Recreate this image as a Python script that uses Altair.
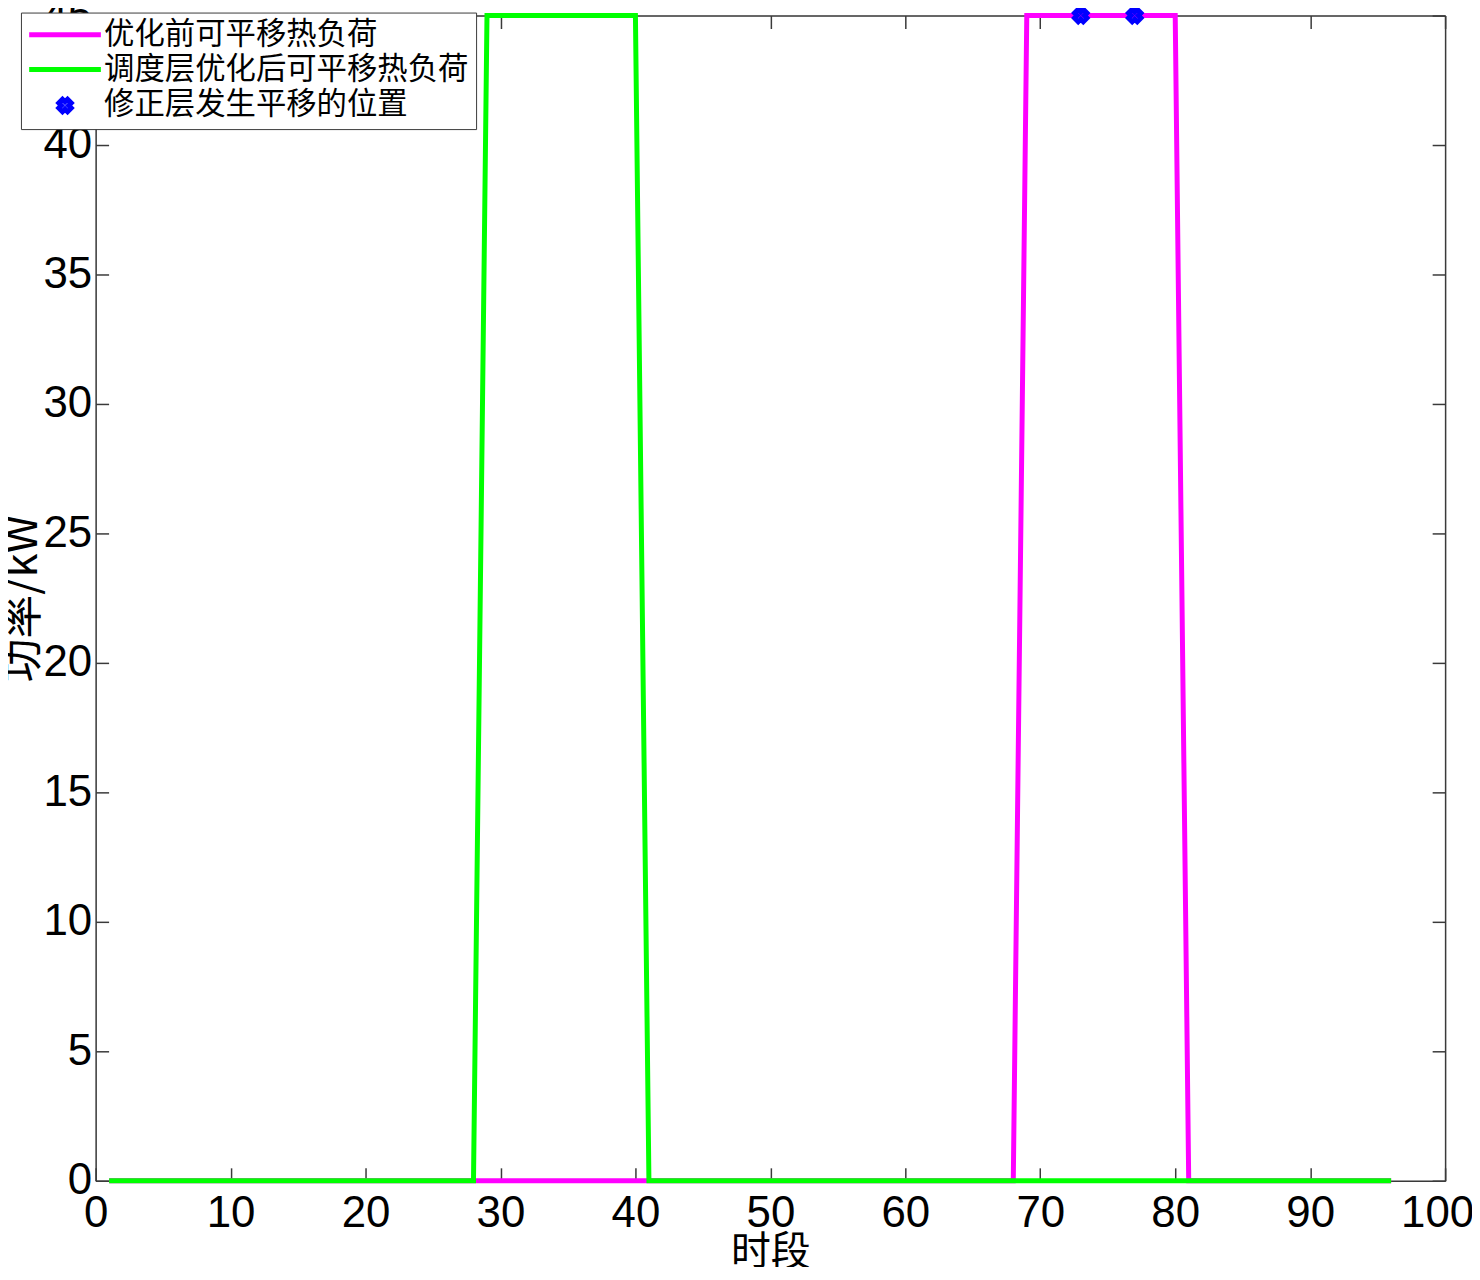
import math
import altair as alt
import pandas as pd

# ---------------- data ----------------
periods = list(range(1, 97))

before_load = [
    0, 0, 0, 0, 0, 0, 0, 0, 0, 0, 0, 0,
    0, 0, 0, 0, 0, 0, 0, 0, 0, 0, 0, 0,
    0, 0, 0, 0, 0, 0, 0, 0, 0, 0, 0, 0,
    0, 0, 0, 0, 0, 0, 0, 0, 0, 0, 0, 0,
    0, 0, 0, 0, 0, 0, 0, 0, 0, 0, 0, 0,
    0, 0, 0, 0, 0, 0, 0, 0, 45, 45, 45, 45,
    45, 45, 45, 45, 45, 45, 45, 45, 0, 0, 0, 0,
    0, 0, 0, 0, 0, 0, 0, 0, 0, 0, 0, 0,
]
after_load = [
    0, 0, 0, 0, 0, 0, 0, 0, 0, 0, 0, 0,
    0, 0, 0, 0, 0, 0, 0, 0, 0, 0, 0, 0,
    0, 0, 0, 0, 45, 45, 45, 45, 45, 45, 45, 45,
    45, 45, 45, 45, 0, 0, 0, 0, 0, 0, 0, 0,
    0, 0, 0, 0, 0, 0, 0, 0, 0, 0, 0, 0,
    0, 0, 0, 0, 0, 0, 0, 0, 0, 0, 0, 0,
    0, 0, 0, 0, 0, 0, 0, 0, 0, 0, 0, 0,
    0, 0, 0, 0, 0, 0, 0, 0, 0, 0, 0, 0,
]
shift_periods = [73, 77]
shift_values = [45, 45]

SER_A = "优化前可平移热负荷"
SER_B = "调度层优化后可平移热负荷"
SER_C = "修正层发生平移的位置"
series_names = [SER_A, SER_B, SER_C]
series_colors = ["#ff00ff", "#00ff00", "#0000ff"]

x_ticks = [0, 10, 20, 30, 40, 50, 60, 70, 80, 90, 100]
y_ticks = [0, 5, 10, 15, 20, 25, 30, 35, 40, 45]

# ---------------- tables ----------------
lines_df = pd.DataFrame({
    "t": periods * 2,
    "v": before_load + after_load,
    "s": [SER_A] * len(periods) + [SER_B] * len(periods),
})
pts_df = pd.DataFrame({"t": shift_periods, "v": shift_values,
                       "s": [SER_C] * len(shift_periods)})


# "x"-shaped marker path (thick diagonal cross)
def x_path(scale):
    a, th = 1.0, 0.42
    plus = [(-th, -a), (th, -a), (th, -th), (a, -th), (a, th), (th, th),
            (th, a), (-th, a), (-th, th), (-a, th), (-a, -th), (-th, -th)]
    rot = [((x - y) / math.sqrt(2), (x + y) / math.sqrt(2)) for x, y in plus]
    m = max(abs(c) for p in rot for c in p)
    pts = [(x / m * scale, y / m * scale) for x, y in rot]
    return "M" + "L".join(f"{x:.3f},{y:.3f}" for x, y in pts) + "Z"


X_SHAPE = x_path(0.5)
LINE_SHAPE = "M-2.88,0H2.88"

W, H = 1355, 1170
FRAME = "#3a3a3a"
NUM_FONT = "Liberation Sans"
CJK_FONT = "Noto Sans CJK SC"

xscale = alt.Scale(domain=[0, 100], nice=False, zero=False)
yscale = alt.Scale(domain=[0, 45], nice=False, zero=False)
cscale = alt.Scale(domain=series_names, range=series_colors)
sscale = alt.Scale(domain=series_names, range=[LINE_SHAPE, LINE_SHAPE, X_SHAPE])

legend = alt.Legend(
    title=None, orient="none", legendX=-75, legendY=-3,
    padding=7, rowPadding=4, fillColor="white", strokeColor=FRAME,
    cornerRadius=0,
    labelFont=CJK_FONT, labelFontSize=30.5, labelColor="black",
    labelLimit=1000,
    symbolSize=625, symbolStrokeWidth=5,
    symbolOffset=22, labelOffset=24,
)

tick_common = dict(
    grid=False, labels=False, title=None,
    ticks=True, tickSize=13, tickColor=FRAME, tickWidth=1.5,
    domainColor=FRAME, domainWidth=1.5,
)
label_common = dict(
    grid=False, ticks=False, tickSize=0,
    domain=True, domainColor=FRAME, domainWidth=1.5,
    labelFont=NUM_FONT, labelFontSize=44, labelColor="black",
    titleFont=CJK_FONT, titleColor="black",
    titleFontWeight="normal", labelFlush=False, labelOverlap=False,
)

x_labels = alt.Axis(
    values=x_ticks, orient="bottom", title="时段",
    labelPadding=11, titlePadding=-3, titleFontSize=40,
    labelOffset={"condition": {"test": "datum.value == 100", "value": -8},
                 "value": 0},
    **label_common)
y_labels = alt.Axis(values=y_ticks, orient="left", title="功率/kW",
                    labelPadding=4, titlePadding=-3, titleFontSize=44,
                    **label_common)
# inward ticks: axes pushed to the opposite edge with negative offset
x_ticks_bottom = alt.Axis(values=x_ticks, orient="top", offset=-H,
                          domain=False, **tick_common)
y_ticks_left = alt.Axis(values=y_ticks, orient="right", offset=-W,
                        domain=False, **tick_common)
x_ticks_top = alt.Axis(values=x_ticks, orient="bottom", offset=-H,
                       domain=True, **tick_common)
y_ticks_right = alt.Axis(values=y_ticks, orient="left", offset=-W,
                         domain=True, **tick_common)

base = alt.Chart(lines_df)

line_a = base.transform_filter(alt.datum.s == SER_A).mark_line(
    strokeWidth=5, strokeJoin="miter", strokeCap="butt"
).encode(
    x=alt.X("t:Q", scale=xscale, axis=x_labels),
    y=alt.Y("v:Q", scale=yscale, axis=y_labels),
    color=alt.Color("s:N", scale=cscale, legend=legend),
)

line_b = base.transform_filter(alt.datum.s == SER_B).mark_line(
    strokeWidth=5, strokeJoin="miter", strokeCap="butt"
).encode(
    x=alt.X("t:Q", scale=xscale, axis=x_ticks_bottom),
    y=alt.Y("v:Q", scale=yscale, axis=y_ticks_left),
    color=alt.Color("s:N", scale=cscale, legend=legend),
)

points = alt.Chart(pts_df).mark_point(
    filled=False, size=625, strokeWidth=5, opacity=1
).encode(
    x=alt.X("t:Q", scale=xscale, axis=x_ticks_top),
    y=alt.Y("v:Q", scale=yscale, axis=y_ticks_right),
    color=alt.Color("s:N", scale=cscale, legend=legend),
    shape=alt.Shape("s:N", scale=sscale, legend=legend),
)

chart = alt.layer(line_a, line_b, points).resolve_axis(
    x="independent", y="independent"
).properties(
    width=W, height=H,
    autosize=alt.AutoSizeParams(type="none"),
    padding={"left": 88, "top": 5, "right": 27, "bottom": 84},
).configure_view(stroke=None).configure(background="white")

chart.save("out.html", embed_options={"renderer": "svg", "actions": False})
